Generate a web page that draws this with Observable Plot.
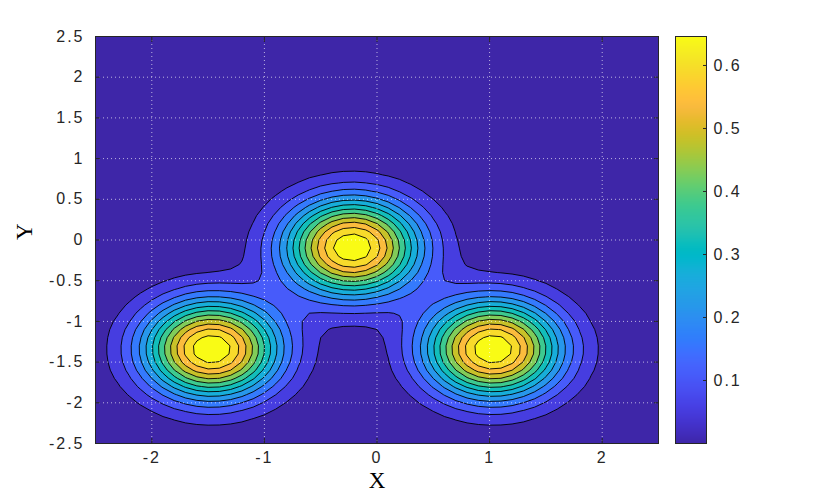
<!DOCTYPE html>
<html>
<head>
<meta charset="utf-8">
<script src="https://cdn.jsdelivr.net/npm/d3@7"></script>
<script src="https://cdn.jsdelivr.net/npm/@observablehq/plot@0.6"></script>
<style>
  body { margin: 0; background: #fff; }
  #wrap { position: relative; width: 830px; height: 498px; overflow: hidden; }
  #wrap svg { position: absolute; left: 0; top: 0; }
</style>
</head>
<body>
<div id="wrap"></div>
<script>
// ---- Data ----
// Three peaks (centres, heights, spread, shape exponent) of the plotted surface
const peakX = [-1.47, -0.22, 1.03];
const peakY = [-1.34, -0.09, -1.34];
const peakAmp = [0.645, 0.645, 0.645];
const peakSpread = [0.595, 0.595, 0.595];
const peakShape = [2.1, 2.1, 2.1];
// Sampling grid of the surface (coarse, as in the original)
const gridMin = -2.5, gridMax = 2.5, gridStep = 0.1;
// Contour levels
const levels = [0, 0.05, 0.1, 0.15, 0.2, 0.25, 0.3, 0.35, 0.4, 0.45, 0.5, 0.55, 0.6];
// Tick labels
const xTicks = [-2, -1, 0, 1, 2];
const yTicks = [-2.5, -2, -1.5, -1, -0.5, 0, 0.5, 1, 1.5, 2, 2.5];
const cbarTicks = [0.1, 0.2, 0.3, 0.4, 0.5, 0.6];
const cbarMin = 0, cbarMax = 0.646;

// ---- parula colormap ----
const parula64 = [
[0.2422,0.1504,0.6603],[0.2504,0.1650,0.7076],[0.2578,0.1818,0.7511],[0.2647,0.1978,0.7952],
[0.2706,0.2147,0.8364],[0.2751,0.2342,0.8710],[0.2783,0.2559,0.8991],[0.2803,0.2782,0.9221],
[0.2813,0.3006,0.9414],[0.2810,0.3228,0.9579],[0.2795,0.3447,0.9717],[0.2760,0.3667,0.9829],
[0.2699,0.3892,0.9906],[0.2602,0.4123,0.9952],[0.2440,0.4358,0.9988],[0.2206,0.4603,0.9973],
[0.1963,0.4847,0.9892],[0.1834,0.5074,0.9798],[0.1786,0.5289,0.9682],[0.1764,0.5499,0.9520],
[0.1687,0.5703,0.9359],[0.1540,0.5902,0.9218],[0.1460,0.6091,0.9079],[0.1380,0.6276,0.8973],
[0.1248,0.6459,0.8883],[0.1113,0.6635,0.8763],[0.0952,0.6798,0.8598],[0.0689,0.6948,0.8394],
[0.0297,0.7082,0.8163],[0.0036,0.7203,0.7917],[0.0067,0.7312,0.7660],[0.0433,0.7411,0.7394],
[0.0964,0.7500,0.7120],[0.1408,0.7584,0.6842],[0.1717,0.7670,0.6554],[0.1938,0.7758,0.6251],
[0.2161,0.7843,0.5923],[0.2470,0.7918,0.5567],[0.2906,0.7973,0.5188],[0.3406,0.8008,0.4789],
[0.3909,0.8029,0.4354],[0.4456,0.8024,0.3909],[0.5044,0.7993,0.3480],[0.5616,0.7942,0.3045],
[0.6174,0.7876,0.2612],[0.6720,0.7793,0.2227],[0.7242,0.7698,0.1910],[0.7738,0.7598,0.1646],
[0.8203,0.7498,0.1535],[0.8634,0.7406,0.1596],[0.9035,0.7330,0.1774],[0.9393,0.7288,0.2100],
[0.9728,0.7298,0.2394],[0.9956,0.7434,0.2371],[0.9970,0.7659,0.2199],[0.9952,0.7893,0.2028],
[0.9892,0.8136,0.1885],[0.9786,0.8386,0.1766],[0.9676,0.8639,0.1643],[0.9610,0.8890,0.1537],
[0.9597,0.9135,0.1423],[0.9628,0.9373,0.1265],[0.9691,0.9606,0.1064],[0.9769,0.9839,0.0805]];
const parulaI = d3.piecewise(d3.interpolateRgb,
  parula64.map(([r, g, b]) => d3.rgb(r * 255, g * 255, b * 255).formatHex()));
const parula = (t) => parulaI(Math.max(0, Math.min(1, t)));

// ---- surface grid built from the peaks ----
const n = Math.round((gridMax - gridMin) / gridStep) + 1;
const values = new Float64Array(n * n);
for (let j = 0; j < n; j++) {
  const y = gridMax - j * gridStep;
  for (let i = 0; i < n; i++) {
    const x = gridMin + i * gridStep;
    let z = 0;
    for (let k = 0; k < peakX.length; k++) {
      const r = Math.sqrt((x - peakX[k]) ** 2 + (y - peakY[k]) ** 2);
      z += peakAmp[k] * Math.exp(-Math.pow(r / peakSpread[k], peakShape[k]));
    }
    values[j * n + i] = z;
  }
}

const sans = '"Liberation Sans", Arial, Helvetica, sans-serif';
const serif = '"Liberation Serif", "Times New Roman", serif';
const axisColor = "#262626";
const fmt = (d) => String(d);
const none = () => "";
const fs = 16;

const main = Plot.plot({
  width: 830, height: 498,
  marginLeft: 95, marginRight: 172, marginTop: 36, marginBottom: 55,
  x: {domain: [-2.5, 2.5]},
  y: {domain: [-2.5, 2.5]},
  color: {type: "linear", domain: [levels[0], levels[levels.length - 1]], interpolate: (t) => parula(t)},
  style: {fontFamily: sans, fontSize: "16px", color: axisColor, background: "white"},
  marks: [
    Plot.contour(values, {
      width: n, height: n,
      x1: gridMin - gridStep / 2, x2: gridMax + gridStep / 2,
      y1: gridMax + gridStep / 2, y2: gridMin - gridStep / 2,
      thresholds: levels,
      fill: Plot.identity,
      stroke: "black", strokeWidth: 0.9,
      clip: true
    }),
    Plot.gridX(xTicks, {stroke: "white", strokeOpacity: 0.65, strokeWidth: 1, strokeDasharray: "1,3"}),
    Plot.gridY(yTicks, {stroke: "white", strokeOpacity: 0.65, strokeWidth: 1, strokeDasharray: "1,3"}),
    Plot.frame({stroke: axisColor, strokeWidth: 1}),
    // tick labels
    Plot.axisX(xTicks, {anchor: "bottom", tickSize: 0, tickPadding: 8, tickFormat: fmt, label: null, fill: axisColor, fontSize: fs}),
    Plot.axisY(yTicks, {anchor: "left", tickSize: 0, tickPadding: 11, tickFormat: fmt, label: null, fill: axisColor, fontSize: fs}),
    // inward tick marks on all four sides
    Plot.axisX(xTicks, {anchor: "bottom", tickSize: 5, dy: -5, tickFormat: none, label: null, stroke: axisColor}),
    Plot.axisX(xTicks, {anchor: "top", tickSize: 5, dy: 5, tickFormat: none, label: null, stroke: axisColor}),
    Plot.axisY(yTicks, {anchor: "left", tickSize: 5, dx: 5, tickFormat: none, label: null, stroke: axisColor}),
    Plot.axisY(yTicks, {anchor: "right", tickSize: 5, dx: -5, tickFormat: none, label: null, stroke: axisColor}),
    // axis titles
    Plot.text(["X"], {frameAnchor: "bottom", dy: 44, fontFamily: serif, fontSize: 23, fill: "black"}),
    Plot.text(["Y"], {frameAnchor: "left", dx: -71, rotate: -90, fontFamily: serif, fontSize: 23, fill: "black"})
  ]
});

const cbar = Plot.plot({
  width: 830, height: 498,
  marginLeft: 675, marginRight: 124, marginTop: 36, marginBottom: 55,
  x: {domain: [0, 1], axis: null},
  y: {domain: [cbarMin, cbarMax]},
  color: {type: "linear", domain: [cbarMin, cbarMax], interpolate: (t) => parula(t)},
  style: {fontFamily: sans, fontSize: "16px", color: axisColor, background: "transparent"},
  marks: [
    Plot.raster({fill: (x, y) => y, x1: 0, x2: 1, y1: cbarMin, y2: cbarMax}),
    Plot.frame({stroke: axisColor, strokeWidth: 1}),
    Plot.axisY(cbarTicks, {anchor: "right", tickSize: 0, tickPadding: 7, tickFormat: fmt, label: null, fill: axisColor, fontSize: fs}),
    Plot.axisY(cbarTicks, {anchor: "right", tickSize: 4, dx: -4, tickFormat: none, label: null, stroke: axisColor})
  ]
});

// MATLAB-like wide spacing of tick label glyphs
for (const svg of [main, cbar]) {
  d3.select(svg).selectAll("text")
    .filter(function () { const t = this.textContent; return t !== "X" && t !== "Y"; })
    .style("font-size", fs + "px")
    .style("letter-spacing", "2px");
}

const wrap = document.getElementById("wrap");
wrap.appendChild(main);
wrap.appendChild(cbar);
</script>
</body>
</html>
